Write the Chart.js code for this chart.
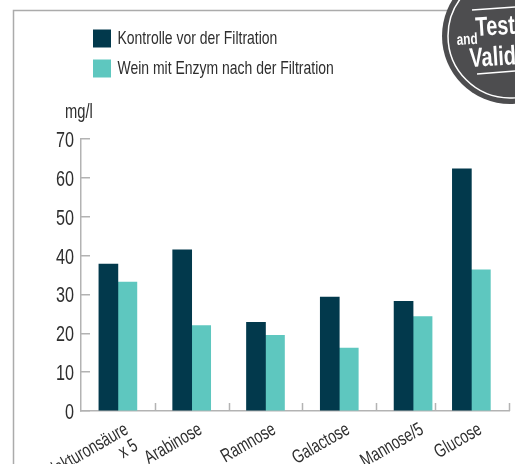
<!DOCTYPE html>
<html><head><meta charset="utf-8">
<style>html,body{margin:0;padding:0;background:#fff;overflow:hidden}#w{width:515px;height:464px;position:relative}</style>
<script src="https://cdn.jsdelivr.net/npm/chart.js@4"></script></head>
<body><div id="w"><canvas id="c"></canvas></div>
<script>
const categories = [["Galakturonsäure","x 5"],"Arabinose","Ramnose","Galactose","Mannose/5","Glucose"];
const seriesNames = ["Kontrolle vor der Filtration","Wein mit Enzym nach der Filtration"];
const kontrolle = [37.8,41.5,22.8,29.3,28.2,62.3];
const wein = [33.2,22,19.5,16.2,24.3,36.3];
const slotCentres = [0.5,1.5,2.5,3.5,4.5,5.29];
const slotEdges = [1,2,3,4,4.8,5.8];
const yTicks = [0,10,20,30,40,50,60,70];
const unitLabel = "mg/l";
const badgeWords = {test:"Test",and:"and",valid:"Valid"};

const FONT = "'Liberation Sans',sans-serif";
const AXIS = "#b3b3b3", TXT = "#2e2e2e";
const toPoints = v => v.map((y,i)=>({x:slotCentres[i],y}));

// The reference uses a condensed typeface: draw the installed sans narrower.
const canvas = document.getElementById('c');
const ctx0 = canvas.getContext('2d');
const rawFill = ctx0.fillText.bind(ctx0);
ctx0.fillText = function(t,x,y){
  const nudge = seriesNames.includes(t) ? -3 : 0;
  ctx0.save(); ctx0.translate(x+nudge,y); ctx0.scale(0.735,1); rawFill(t,0,0); ctx0.restore();
};

const decor = {
  id:'decor',
  afterLayout(chart){
    const l = chart.legend;
    const w = l.right-l.left, h = l.bottom-l.top;
    l.left = 82; l.top = 18; l.right = l.left+w; l.bottom = l.top+h;
  },
  beforeDraw(chart){
    const c = chart.ctx; c.save();
    c.strokeStyle="#ababab"; c.lineWidth=1.5;
    c.beginPath(); c.moveTo(13.5,464); c.lineTo(13.5,10.5); c.lineTo(515,10.5); c.stroke();
    c.restore();
  },
  afterDraw(chart){
    const c = chart.ctx, x = chart.scales.x, base = chart.scales.y.getPixelForValue(0);
    c.save();
    c.strokeStyle=AXIS; c.lineWidth=1.5;
    slotEdges.forEach(v=>{const p=Math.round(x.getPixelForValue(v))+0.5;
      c.beginPath(); c.moveTo(p,base); c.lineTo(p,base-8); c.stroke();});
    c.fillStyle=TXT; c.font="20px "+FONT; c.textAlign="left"; c.textBaseline="alphabetic";
    c.fillText(unitLabel,65,118);
    // badge
    c.fillStyle="#4d4d4f"; c.beginPath(); c.arc(510,36,68,0,Math.PI*2); c.fill();
    c.strokeStyle="#fff"; c.lineWidth=1.5; c.beginPath(); c.arc(510,36,62,0,Math.PI*2); c.stroke();
    c.beginPath(); c.moveTo(472,10); c.lineTo(515,7); c.stroke();
    c.beginPath(); c.moveTo(477,74); c.lineTo(515,71); c.stroke();
    c.fillStyle="#fff";
    c.save(); c.translate(476,36); c.rotate(-0.06); c.font="bold 27px "+FONT; c.fillText(badgeWords.test,0,0); c.restore();
    c.save(); c.translate(457,45); c.rotate(-0.06); c.font="bold 16px "+FONT; c.fillText(badgeWords.and,0,0); c.restore();
    c.save(); c.translate(470,67); c.rotate(-0.06); c.font="bold 27px "+FONT; c.fillText(badgeWords.valid,0,0); c.restore();
    c.restore();
  }
};

new Chart(canvas,{
  type:'bar',
  data:{datasets:[
    {label:seriesNames[0],data:toPoints(kontrolle),backgroundColor:"#02394c"},
    {label:seriesNames[1],data:toPoints(wein),backgroundColor:"#5ec7bf"}
  ]},
  plugins:[decor],
  options:{
    responsive:true,maintainAspectRatio:false,animation:false,
    layout:{padding:{top:139,right:6,left:0,bottom:0}},
    datasets:{bar:{barThickness:19,borderWidth:0}},
    plugins:{
      tooltip:{enabled:false},
      legend:{position:'chartArea',align:'start',
        labels:{boxWidth:18,boxHeight:18,padding:11,color:TXT,font:{family:FONT,size:19}}}
    },
    scales:{
      x:{type:'linear',min:0,max:5.8,offset:false,
        afterBuildTicks(s){s.ticks=slotCentres.map(value=>({value}));},
        afterFit(s){s.height=53;s.paddingLeft=0;s.paddingRight=0;},
        border:{color:AXIS,width:1.5},
        grid:{display:false,drawTicks:false,offset:false},
        ticks:{autoSkip:false,minRotation:30,maxRotation:30,padding:9,labelOffset:9,color:TXT,
          font:{family:FONT,size:19,lineHeight:1.0},callback:(v,i)=>categories[i]}
      },
      y:{min:0,max:70,
        afterBuildTicks(s){s.ticks=yTicks.map(value=>({value}));},
        afterFit(s){s.width=81;s.paddingTop=0;s.paddingBottom=0;},
        border:{color:AXIS,width:1.5},
        grid:{drawOnChartArea:false,drawTicks:true,tickLength:-9,color:AXIS,lineWidth:1.5},
        ticks:{padding:16,labelOffset:2,color:TXT,font:{family:FONT,size:22}}
      }
    }
  }
});
</script></body></html>
